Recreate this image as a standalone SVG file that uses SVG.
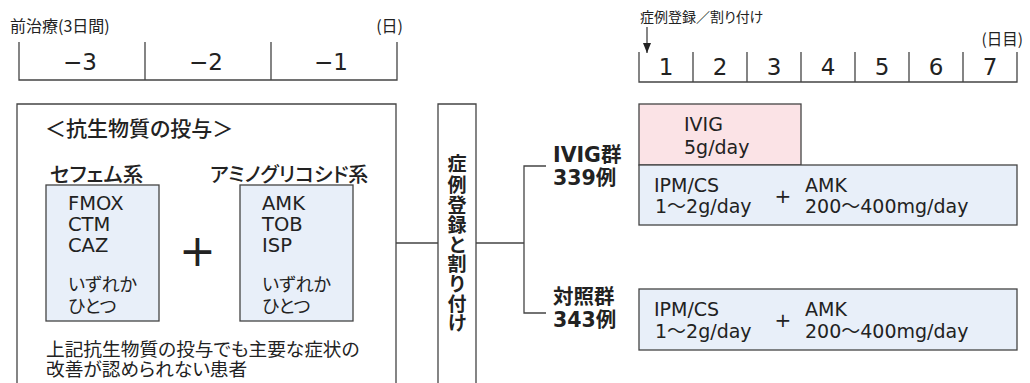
<svg xmlns="http://www.w3.org/2000/svg" width="1030" height="383" viewBox="0 0 1030 383">
<defs>
<style>
.ln{stroke:#444;stroke-width:1.3;fill:none}
.bx{stroke:#444;stroke-width:1.3}
.blue{fill:#e8eff9}
.pink{fill:#fbe3e6}
text{fill:#222;dominant-baseline:central;font-feature-settings:"palt"}
.jp{font-family:"Noto Sans CJK JP","Noto Sans",sans-serif}
.lat{font-family:"DejaVu Sans","Noto Sans CJK JP",sans-serif}
.b{font-weight:bold}
.m{font-weight:500}
</style>
<marker id="ah" markerWidth="10" markerHeight="8" refX="10" refY="4" orient="auto" markerUnits="userSpaceOnUse" viewBox="0 0 10 8">
<path d="M0,0 L10,4 L0,8 Z" fill="#222"/>
</marker>
</defs>

<g id="timeline-pre">
<text class="jp" x="10" y="25" font-size="16">前治療(3日間)</text>
<text class="jp" x="403" y="25" font-size="16" text-anchor="end">(日)</text>
<path class="ln" d="M19,42V80H397V42M145,42V80M271,42V80"/>
<text class="lat" x="80" y="62" font-size="23" text-anchor="middle">−3</text>
<text class="lat" x="206" y="62" font-size="23" text-anchor="middle">−2</text>
<text class="lat" x="331" y="62" font-size="23" text-anchor="middle">−1</text>
</g>

<g id="timeline-post">
<text class="jp" x="640" y="16" font-size="14">症例登録／割り付け</text>
<text class="jp" x="1023" y="38" font-size="15.5" text-anchor="end">(日目)</text>
<path class="ln" d="M639,52V82H1017V52M693,52V82M747,52V82M801,52V82M855,52V82M909,52V82M963,52V82"/>
<text class="lat" x="666" y="67" font-size="23" text-anchor="middle">1</text>
<text class="lat" x="720" y="67" font-size="23" text-anchor="middle">2</text>
<text class="lat" x="774" y="67" font-size="23" text-anchor="middle">3</text>
<text class="lat" x="828" y="67" font-size="23" text-anchor="middle">4</text>
<text class="lat" x="882" y="67" font-size="23" text-anchor="middle">5</text>
<text class="lat" x="936" y="67" font-size="23" text-anchor="middle">6</text>
<text class="lat" x="990" y="67" font-size="23" text-anchor="middle">7</text>
</g>

<g id="connectors">
<line x1="647" y1="27" x2="647" y2="53" class="ln" marker-end="url(#ah)"/>
<path class="ln" d="M396,243H438M476,243H524M546,166H524V313H546"/>
</g>

<g id="antibiotics">
<path class="ln" d="M17,395V104H396V395"/>
<text class="jp m" x="45" y="127" font-size="21">＜抗生物質の投与＞</text>
<text class="jp m" x="50" y="173" font-size="20.5">セフェム系</text>
<text class="jp m" x="210" y="173" font-size="20">アミノグリコシド系</text>
<g id="cephem">
<rect class="bx blue" x="46" y="185" width="113" height="136"/>
<text class="lat" x="68" y="203" font-size="19.5">FMOX</text>
<text class="lat" x="68" y="224" font-size="19.5">CTM</text>
<text class="lat" x="68" y="245" font-size="19.5">CAZ</text>
<text class="jp" x="68" y="283" font-size="18">いずれか</text>
<text class="jp" x="68" y="305" font-size="18">ひとつ</text>
</g>
<text class="lat" x="197.5" y="250" font-size="44" text-anchor="middle">+</text>
<g id="aminoglycoside">
<rect class="bx blue" x="240" y="185" width="113" height="136"/>
<text class="lat" x="262" y="203" font-size="19.5">AMK</text>
<text class="lat" x="262" y="224" font-size="19.5">TOB</text>
<text class="lat" x="262" y="245" font-size="19.5">ISP</text>
<text class="jp" x="262" y="283" font-size="18">いずれか</text>
<text class="jp" x="262" y="305" font-size="18">ひとつ</text>
</g>
<text class="jp" x="46" y="347" font-size="18.7">上記抗生物質の投与でも主要な症状の</text>
<text class="jp" x="46" y="367" font-size="18.7">改善が認められない患者</text>
</g>

<g id="registration">
<path class="ln" d="M438,395V104H476V395"/>
<g class="jp b" font-size="19">
<text x="457" y="162" text-anchor="middle">症</text>
<text x="457" y="183" text-anchor="middle">例</text>
<text x="457" y="203" text-anchor="middle">登</text>
<text x="457" y="223" text-anchor="middle">録</text>
<text x="457" y="243" text-anchor="middle">と</text>
<text x="457" y="262" text-anchor="middle">割</text>
<text x="457" y="282" text-anchor="middle">り</text>
<text x="457" y="302" text-anchor="middle">付</text>
<text x="457" y="321" text-anchor="middle">け</text>
</g>
</g>

<g id="ivig-group">
<text class="lat b" x="553" y="155" font-size="20.5">IVIG群</text>
<text class="lat b" x="553" y="178" font-size="20.5">339例</text>
<rect class="bx pink" x="639" y="104" width="162" height="61"/>
<text class="lat" x="684" y="124" font-size="19">IVIG</text>
<text class="lat" x="684" y="147" font-size="19">5g/day</text>
<rect class="bx blue" x="639" y="165" width="378" height="60"/>
<text class="lat" x="654" y="185" font-size="19">IPM/CS</text>
<text class="lat" x="655" y="206" font-size="19">1～2g/day</text>
<text class="lat" x="783" y="196" font-size="20" text-anchor="middle">+</text>
<text class="lat" x="805" y="185" font-size="19">AMK</text>
<text class="lat" x="805" y="206" font-size="19">200～400mg/day</text>
</g>

<g id="control-group">
<text class="lat b" x="553" y="297" font-size="20.5">対照群</text>
<text class="lat b" x="553" y="320" font-size="20.5">343例</text>
<rect class="bx blue" x="639" y="289" width="378" height="61"/>
<text class="lat" x="654" y="309" font-size="19">IPM/CS</text>
<text class="lat" x="655" y="331" font-size="19">1～2g/day</text>
<text class="lat" x="783" y="320" font-size="20" text-anchor="middle">+</text>
<text class="lat" x="805" y="309" font-size="19">AMK</text>
<text class="lat" x="805" y="331" font-size="19">200～400mg/day</text>
</g>
</svg>
